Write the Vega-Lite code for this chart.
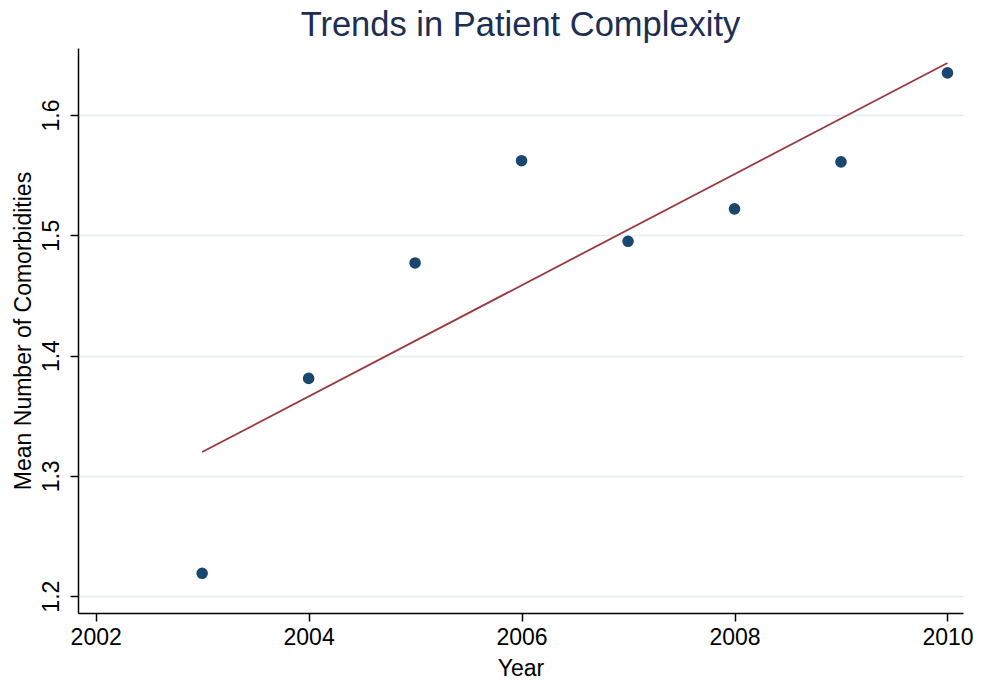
{
  "$schema": "https://vega.github.io/schema/vega-lite/v6.json",
  "width": 885,
  "height": 565,
  "autosize": {"type": "none"},
  "padding": {"left": 78, "top": 48, "right": 19, "bottom": 73},
  "background": "white",
  "config": {
    "view": {"stroke": null},
    "font": "Liberation Sans"
  },
  "title": {
    "text": "Trends in Patient Complexity",
    "font": "Liberation Sans",
    "fontSize": 34.5,
    "fontWeight": "normal",
    "color": "#1c2e52",
    "anchor": "middle",
    "baseline": "alphabetic",
    "offset": 12,
    "dy": 34
  },
  "data": {
    "values": [
      {"year": 2003, "mean": 1.219},
      {"year": 2004, "mean": 1.381},
      {"year": 2005, "mean": 1.477},
      {"year": 2006, "mean": 1.562},
      {"year": 2007, "mean": 1.495},
      {"year": 2008, "mean": 1.522},
      {"year": 2009, "mean": 1.561},
      {"year": 2010, "mean": 1.635}
    ]
  },
  "encoding": {
    "x": {
      "field": "year",
      "type": "quantitative",
      "scale": {"domain": [2001.834, 2010.146], "nice": false, "zero": false},
      "axis": {
        "title": "Year",
        "values": [2002, 2004, 2006, 2008, 2010],
        "format": "d",
        "grid": false,
        "domainColor": "black",
        "domainWidth": 1.5,
        "tickColor": "black",
        "tickWidth": 1.5,
        "tickSize": 8,
        "labelFont": "Liberation Sans",
        "labelFontSize": 23,
        "labelColor": "black",
        "labelPadding": 5,
        "labelFlush": false,
        "titleFont": "Liberation Sans",
        "titleFontSize": 23,
        "titleFontWeight": "normal",
        "titleColor": "black",
        "titlePadding": 8
      }
    },
    "y": {
      "field": "mean",
      "type": "quantitative",
      "scale": {"domain": [1.186, 1.6557], "nice": false, "zero": false},
      "axis": {
        "title": "Mean Number of Comorbidities",
        "values": [1.2, 1.3, 1.4, 1.5, 1.6],
        "format": ".1f",
        "grid": true,
        "gridColor": "#e4eeef",
        "gridWidth": 1.5,
        "domainColor": "black",
        "domainWidth": 1.5,
        "tickColor": "black",
        "tickWidth": 1.5,
        "tickSize": 8,
        "labelAngle": -90,
        "labelAlign": "center",
        "labelBaseline": "alphabetic",
        "labelFont": "Liberation Sans",
        "labelFontSize": 23,
        "labelColor": "black",
        "labelPadding": 12,
        "labelFlush": false,
        "titleFont": "Liberation Sans",
        "titleFontSize": 23,
        "titleFontWeight": "normal",
        "titleColor": "black",
        "titlePadding": 5
      }
    }
  },
  "layer": [
    {
      "mark": {"type": "point", "filled": true, "size": 135, "color": "#1a476f", "opacity": 1}
    },
    {
      "transform": [{"regression": "mean", "on": "year"}],
      "mark": {"type": "line", "color": "#983a40", "strokeWidth": 1.8}
    }
  ]
}
